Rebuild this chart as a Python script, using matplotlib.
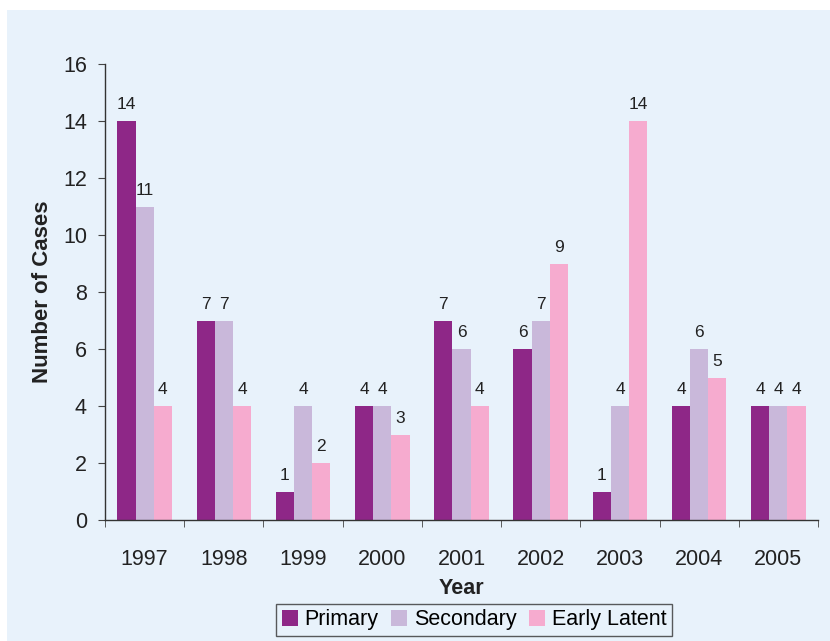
import numpy as np
import matplotlib
matplotlib.use("Agg")
import matplotlib.pyplot as plt
from matplotlib.patches import Rectangle

plt.rcParams['font.family'] = ['Liberation Sans', 'DejaVu Sans']

years = ['1997', '1998', '1999', '2000', '2001', '2002', '2003', '2004', '2005']
primary = [14, 7, 1, 4, 7, 6, 1, 4, 4]
secondary = [11, 7, 4, 4, 6, 7, 4, 6, 4]
early_latent = [4, 4, 2, 3, 4, 9, 14, 5, 4]

series = [('Primary', primary, '#8E2787'),
          ('Secondary', secondary, '#C9B8DA'),
          ('Early Latent', early_latent, '#F6ABCF')]

bg = '#E8F2FB'

fig = plt.figure(figsize=(8.3, 6.41), dpi=100)
fig.patch.set_facecolor('white')
# light blue panel behind the chart
fig.patches.append(Rectangle((7 / 830, 0), 1, 1 - 10 / 641, transform=fig.transFigure,
                             facecolor=bg, edgecolor='none', zorder=-5))

ax = fig.add_axes([105 / 830, 1 - 520 / 641, 713 / 830, 456 / 641])
ax.set_facecolor(bg)

x = np.arange(len(years))
w = 0.23
for i, (name, vals, col) in enumerate(series):
    pos = x + (i - 1) * w
    bars = ax.bar(pos, vals, w, color=col, label=name, zorder=2)
    for p, v in zip(pos, vals):
        ax.text(p, v + 0.3, str(v), ha='center', va='bottom', fontsize=12.5, color='#222222')

ax.set_xlim(-0.5, len(years) - 0.5)
ax.set_ylim(0, 16)
ax.set_yticks(range(0, 17, 2))
ax.set_xticks(x)
ax.set_xticklabels(years)
ax.set_xticks(np.arange(-0.5, len(years)), minor=True)
ax.tick_params(axis='x', which='major', length=0, pad=21, labelsize=15.5, labelcolor='#222222')
ax.tick_params(axis='x', which='minor', length=5, direction='out', color='#444444')
ax.tick_params(axis='y', length=5, direction='out', color='#444444', labelsize=15.5,
               labelcolor='#222222', pad=8)

for s in ['top', 'right']:
    ax.spines[s].set_visible(False)
for s in ['left', 'bottom']:
    ax.spines[s].set_color('#333333')
    ax.spines[s].set_linewidth(1.0)

ax.set_xlabel('Year', fontsize=15.5, fontweight='bold', labelpad=6, color='#222222')
ax.set_ylabel('Number of Cases', fontsize=16, fontweight='bold', labelpad=7, color='#222222')

leg = fig.legend(loc='center', bbox_to_anchor=(474 / 830, 1 - 620 / 641), ncol=3,
                 fontsize=15.5, frameon=True, fancybox=False, handlelength=0.75,
                 handleheight=0.75, handletextpad=0.3, columnspacing=0.6,
                 borderpad=0.25, borderaxespad=0)
leg.get_frame().set_edgecolor('#333333')
leg.get_frame().set_facecolor(bg)
leg.get_frame().set_linewidth(1.0)

fig.savefig('out.png', dpi=100, facecolor=fig.get_facecolor())
